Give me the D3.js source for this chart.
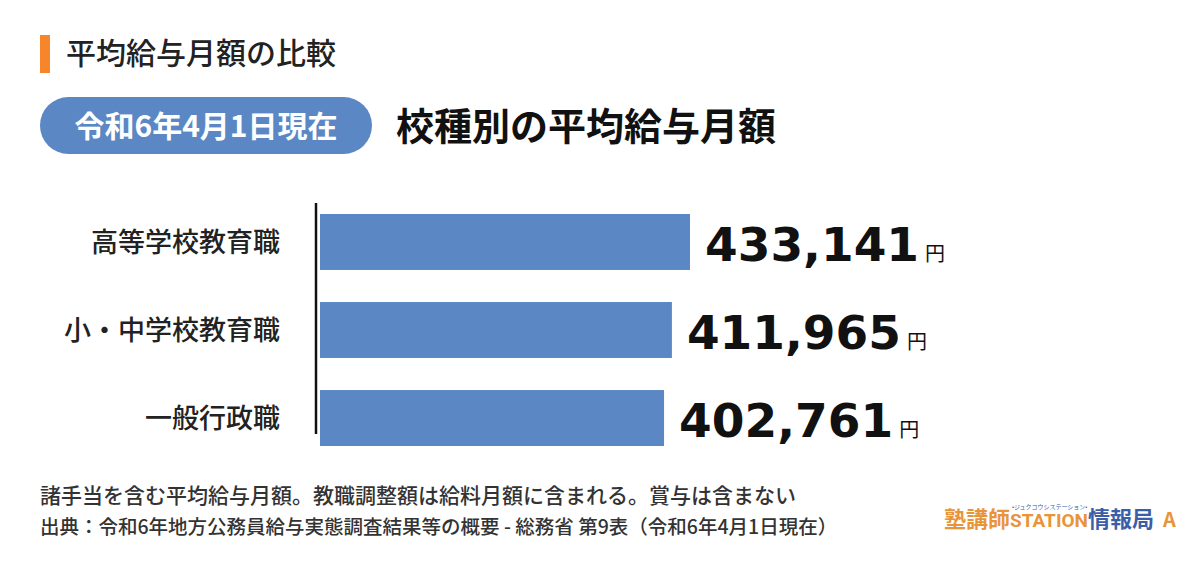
<!DOCTYPE html>
<html><head><meta charset="utf-8">
<script src="https://cdn.jsdelivr.net/npm/d3@7"></script>
<style>body{margin:0;background:#fff}svg{font-family:"Noto Sans CJK JP","Noto Sans",sans-serif}</style>
</head><body><svg id="canvas" width="1200" height="566"></svg>
<script>
let categories = ['高等学校教育職', '小・中学校教育職', '一般行政職']
let values = [433141, 411965, 402761]

let svg = d3.select('#canvas')
let blue = '#5b88c4'

svg.append('rect').attr('x', 40).attr('y', 35).attr('width', 10).attr('height', 38).attr('fill', '#f7862a')
svg.append('text').attr('x', 66).attr('y', 64).attr('font-size', 30).attr('font-weight', 500).attr('fill', '#222').text('平均給与月額の比較')

svg.append('rect').attr('x', 40).attr('y', 97).attr('width', 332).attr('height', 57).attr('rx', 28.5).attr('fill', blue)
svg.append('text').attr('x', 206).attr('y', 137).attr('text-anchor', 'middle').attr('font-size', 30).attr('font-weight', 700).attr('fill', '#fff').text('令和6年4月1日現在')
svg.append('text').attr('x', 396).attr('y', 140).attr('font-size', 38).attr('font-weight', 700).attr('fill', '#111').text('校種別の平均給与月額')

let x = d3.scaleLinear().domain([0, 433141]).range([320, 690])
let y = d3.scaleBand().domain(categories).range([214, 446]).paddingInner(0.364).paddingOuter(0)

svg.append('line').attr('x1', 316).attr('x2', 316).attr('y1', 203).attr('y2', 434).attr('stroke', '#111').attr('stroke-width', 2.5)

let g = svg.selectAll('g.bar').data(categories).enter().append('g')
g.append('rect')
  .attr('x', x(0)).attr('y', d => y(d))
  .attr('width', (d, i) => x(values[i]) - x(0)).attr('height', y.bandwidth())
  .attr('fill', blue)
g.append('text')
  .attr('x', 280).attr('y', d => y(d) + y.bandwidth() / 2 + 10)
  .attr('text-anchor', 'end').attr('font-size', 27).attr('font-weight', 500).attr('fill', '#222')
  .text(d => d)
let lab = g.append('text')
  .attr('x', (d, i) => x(values[i]) + 15).attr('y', d => y(d) + y.bandwidth() / 2 + 19)
  .attr('font-family', '"DejaVu Sans", sans-serif').attr('fill', '#111')
lab.append('tspan').attr('font-size', 47).attr('font-weight', 700).text((d, i) => d3.format(',')(values[i]))
lab.append('tspan').attr('dx', 6).attr('font-size', 20).attr('font-family', '"Noto Sans CJK JP"').text('円')

svg.append('text').attr('x', 40).attr('y', 503).attr('font-size', 21).attr('font-weight', 500).attr('fill', '#333').text('諸手当を含む平均給与月額。教職調整額は給料月額に含まれる。賞与は含まない')
svg.append('text').attr('x', 40).attr('y', 534).attr('font-size', 19.5).attr('font-weight', 500).attr('fill', '#333').text('出典：令和6年地方公務員給与実態調査結果等の概要 - 総務省 第9表（令和6年4月1日現在）')

let logo = svg.append('text').attr('x', 944).attr('y', 527).attr('font-size', 22).attr('font-weight', 700)
logo.append('tspan').attr('fill', '#e8953a').text('塾講師')
logo.append('tspan').attr('fill', '#e8953a').attr('font-family', 'Roboto').attr('font-size', 19).text('STATION')
logo.append('tspan').attr('fill', '#3a5ea8').text('情報局')
svg.append('text').attr('x', 1012).attr('y', 509).attr('font-size', 6).attr('fill', '#3a5ea8').text('•ジュクコウシステーション•')
svg.append('text').attr('x', 1163).attr('y', 527).attr('font-size', 20).attr('font-weight', 700).attr('fill', '#e8953a').text('A')
</script></body></html>
